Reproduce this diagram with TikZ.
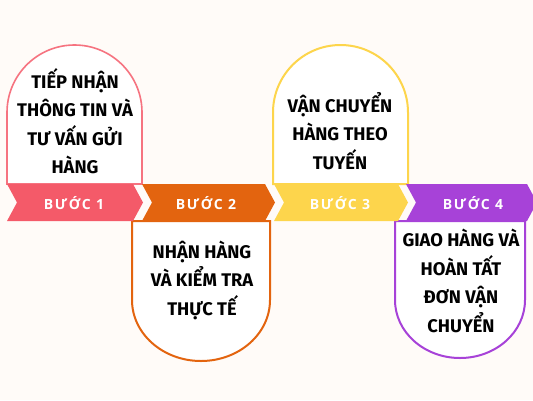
\documentclass[tikz,border=0pt]{standalone}
\usepackage{fontspec}
\newfontfamily\boxfont{Fira Sans}
\newfontfamily\banfont{Open Sans}
\definecolor{bg}{HTML}{FFFBF8}
\definecolor{cpink}{HTML}{F45A69}
\definecolor{corange}{HTML}{E3640F}
\definecolor{cyellow}{HTML}{FDD54C}
\definecolor{cpurple}{HTML}{A742D8}
\tikzset{
  card/.style={fill=white, line width=2pt},
  cardtext/.style={font={\boxfont\bfseries\fontsize{18.3}{28.5}\selectfont}, align=center, text=black, inner sep=0pt},
  bantext/.style={font={\banfont\bfseries\fontsize{14}{16}\selectfont}, text=white, inner sep=0pt}
}
\newcommand{\ls}{\kern1.6pt}
\begin{document}
\begin{tikzpicture}[x=1pt,y=-1pt]
\useasboundingbox[fill=bg] (0,0) rectangle (533,400);
% cards
\draw[card, draw=cpink!85, line width=1.6pt] (7,184) -- (7,112.5) arc[start angle=180,end angle=360,radius=67.5] -- (142,184) -- cycle;
\draw[card, draw=cyellow] (273,184) -- (273,112.5) arc[start angle=180,end angle=360,radius=67.5] -- (408,184) -- cycle;
\draw[card, draw=corange] (132,221) -- (132,300) arc[start angle=180,end angle=0,x radius=69,y radius=61] -- (270,221) -- cycle;
\draw[card, draw=cpurple] (395,221) -- (395,300) arc[start angle=180,end angle=0,x radius=65,y radius=58] -- (525,221) -- cycle;
% banners
\fill[cpink] (7,184) -- (133,184) -- (143,202.5) -- (133,221) -- (7,221) -- (17,202.5) -- cycle;
\fill[corange] (142,184) -- (265,184) -- (275,202.5) -- (265,221) -- (142,221) -- (152,202.5) -- cycle;
\fill[cyellow] (274,184) -- (398,184) -- (408,202.5) -- (398,221) -- (274,221) -- (284,202.5) -- cycle;
\fill[cpurple] (406,184) -- (527,184) -- (537,202.5) -- (527,221) -- (406,221) -- (416,202.5) -- cycle;
% banner labels
\node[bantext] (b1) at (74,203) {B\ls Ư\ls Ớ\ls C\ls\ 1};
\node[bantext] (b2) at (206,203) {B\ls Ư\ls Ớ\ls C\ls\ 2};
\node[bantext] (b3) at (340,203) {B\ls Ư\ls Ớ\ls C\ls\ 3};
\node[bantext] (b4) at (473,203) {B\ls Ư\ls Ớ\ls C\ls\ 4};
% card texts
\node[cardtext] (t1) at (75,121) {TIẾP NHẬN\\THÔNG TIN VÀ\\TƯ VẤN GỬI\\HÀNG};
\node[cardtext] (t3) at (340,131) {VẬN CHUYỂN\\HÀNG THEO\\TUYẾN};
\node[cardtext] (t2) at (202,280) {NHẬN HÀNG\\VÀ KIỂM TRA\\THỰC TẾ};
\node[cardtext] (t4) at (461,281) {GIAO HÀNG VÀ\\HOÀN TẤT\\ĐƠN VẬN\\CHUYỂN};
\end{tikzpicture}
\end{document}
